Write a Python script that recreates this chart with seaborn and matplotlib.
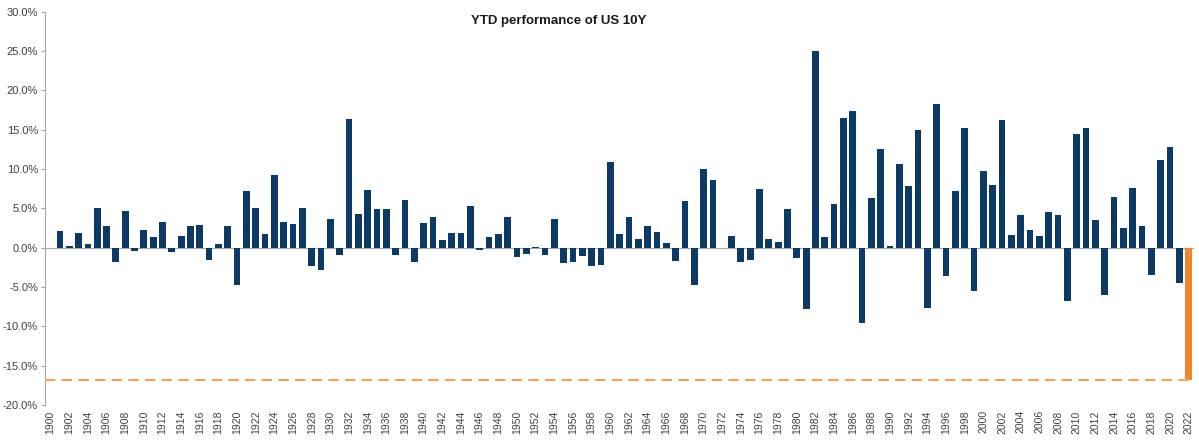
import matplotlib
matplotlib.use('Agg')
import matplotlib.pyplot as plt
import seaborn as sns
import pandas as pd
from matplotlib.ticker import FuncFormatter

# ── Data: US 10Y YTD performance (%), 1900-2022 ──────────────────────────────
years = list(range(1900, 2023))
perf = [
    0.0, 2.15, 0.25, 1.8, 0.4, 5.0, 2.7, -1.8, 4.6, -0.4,        # 1900s
    2.2, 1.3, 3.2, -0.6, 1.5, 2.7, 2.9, -1.6, 0.5, 2.8,          # 1910s
    -4.75, 7.25, 5.1, 1.7, 9.2, 3.3, 3.0, 5.1, -2.4, -2.8,       # 1920s
    3.7, -1.0, 16.4, 4.3, 7.3, 4.9, 4.9, -0.9, 6.0, -1.8,        # 1930s
    3.1, 3.9, 1.0, 1.9, 1.9, 5.3, -0.3, 1.3, 1.7, 3.9,           # 1940s
    -1.2, -0.85, 0.05, -0.9, 3.7, -2.0, -1.8, -1.05, -2.3, -2.2, # 1950s
    10.9, 1.7, 3.9, 1.1, 2.75, 1.95, 0.6, -1.65, 5.9, -4.8,      # 1960s
    10.0, 8.55, -0.1, 1.45, -1.8, -1.6, 7.4, 1.1, 0.7, 4.9,      # 1970s
    -1.3, -7.8, 25.0, 1.35, 5.55, 16.5, 17.4, -9.6, 6.35, 12.5,  # 1980s
    0.2, 10.6, 7.9, 15.0, -7.7, 18.3, -3.65, 7.25, 15.2, -5.55,  # 1990s
    9.75, 8.0, 16.3, 1.65, 4.2, 2.25, 1.45, 4.5, 4.2, -6.85,     # 2000s
    14.5, 15.25, 3.5, -6.0, 6.5, 2.45, 7.55, 2.7, -3.5, 11.2,    # 2010s
    12.8, -4.45, -16.8,                                          # 2020s
]
current_ytd = -16.8
title = 'YTD performance of US 10Y'

df = pd.DataFrame({'year': [str(y) for y in years], 'perf': perf})
df['kind'] = ['current' if y == 2022 else 'past' for y in years]

# ── Chart ─────────────────────────────────────────────────────────────────────
sns.set_style('white')
plt.rcParams['font.family'] = ['Liberation Sans', 'DejaVu Sans']

fig = plt.figure(figsize=(11.99, 4.4), dpi=100)
ax = fig.add_axes([0.0375, 0.08, 0.9585, 0.893])

sns.barplot(data=df, x='year', y='perf', hue='kind',
            palette={'past': '#0B3A66', 'current': '#F0862A'},
            dodge=False, width=0.72, legend=False, ax=ax, saturation=1,
            linewidth=0)

ax.axhline(0, color='#A6A6A6', linewidth=0.8, zorder=0)
ax.axhline(current_ytd, color='#F2A25C', linewidth=1.5, dashes=(5, 3), zorder=3)

ax.set_ylim(-20, 30)
ax.set_yticks(range(-20, 31, 5))
ax.yaxis.set_major_formatter(FuncFormatter(lambda v, _: f'{v:.1f}%'))
ax.set_xlim(-0.6, len(years) - 0.4)
ax.set_xticks(range(0, len(years), 2))
ax.set_xticklabels(df['year'][::2], rotation=90)

ax.tick_params(axis='y', labelsize=8, labelcolor='#404040', color='#A6A6A6',
               length=3, width=0.8, left=True, pad=2)
ax.tick_params(axis='x', labelsize=7.5, labelcolor='#404040', length=0, pad=4)
ax.set_xlabel('')
ax.set_ylabel('')

for side in ['top', 'right', 'bottom']:
    ax.spines[side].set_visible(False)
ax.spines['left'].set_color('#A6A6A6')
ax.spines['left'].set_linewidth(0.8)

fig.text(0.466, 0.953, title, ha='center', va='center',
         fontsize=9.5, fontweight='bold', color='#1A1A1A')

plt.savefig('out.png', dpi=100)
plt.close(fig)
